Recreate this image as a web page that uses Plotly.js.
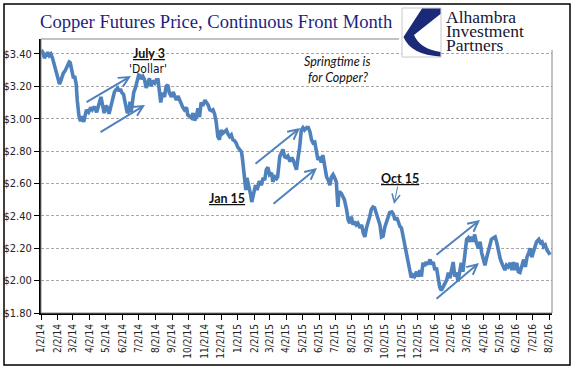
<!DOCTYPE html>
<html>
<head>
<meta charset="utf-8">
<script src="https://cdn.plot.ly/plotly-3.0.1.min.js"></script>
<style>html,body{margin:0;padding:0;background:#fff;}#chart{width:577px;height:386px;}</style>
</head>
<body>
<div id="chart"></div>
<script>
// ---- data ----
const dates = [
'2014-01-02','2014-01-05','2014-01-08','2014-01-10','2014-01-14','2014-01-17','2014-01-20','2014-01-23','2014-01-25','2014-01-29','2014-01-31',
'2014-02-03','2014-02-05','2014-02-07','2014-02-10','2014-02-12','2014-02-16','2014-02-20','2014-02-23','2014-02-25','2014-02-28',
'2014-03-03','2014-03-05','2014-03-08','2014-03-10','2014-03-13','2014-03-16','2014-03-19','2014-03-22','2014-03-24','2014-03-27','2014-03-31',
'2014-04-04','2014-04-07','2014-04-11','2014-04-15','2014-04-18','2014-04-20','2014-04-23','2014-04-26','2014-04-29',
'2014-05-02','2014-05-05','2014-05-08','2014-05-12','2014-05-15','2014-05-18','2014-05-21','2014-05-24','2014-05-27','2014-05-29',
'2014-06-01','2014-06-04','2014-06-06','2014-06-09','2014-06-11','2014-06-14','2014-06-16','2014-06-18','2014-06-21','2014-06-23','2014-06-26','2014-06-29',
'2014-07-02','2014-07-05','2014-07-07','2014-07-10','2014-07-13','2014-07-16','2014-07-19','2014-07-22','2014-07-25','2014-07-28',
'2014-08-01','2014-08-04','2014-08-07','2014-08-10','2014-08-12','2014-08-15','2014-08-19','2014-08-22','2014-08-25','2014-08-28',
'2014-09-01','2014-09-04','2014-09-07','2014-09-10','2014-09-13','2014-09-16','2014-09-19','2014-09-22','2014-09-25','2014-09-29',
'2014-10-01','2014-10-05','2014-10-08','2014-10-11','2014-10-14','2014-10-17','2014-10-20','2014-10-23','2014-10-26','2014-10-29',
'2014-11-02','2014-11-05','2014-11-08','2014-11-11','2014-11-14','2014-11-17','2014-11-20','2014-11-23','2014-11-26','2014-11-29',
'2014-12-02','2014-12-05','2014-12-09','2014-12-12','2014-12-15','2014-12-18','2014-12-21','2014-12-24','2014-12-27','2014-12-30',
'2015-01-02','2015-01-06','2015-01-09','2015-01-11','2015-01-13','2015-01-15','2015-01-17','2015-01-19','2015-01-21','2015-01-24','2015-01-26','2015-01-28',
'2015-02-01','2015-02-04','2015-02-07','2015-02-11','2015-02-15','2015-02-18','2015-02-21','2015-02-24','2015-02-27',
'2015-03-02','2015-03-06','2015-03-08','2015-03-12','2015-03-15','2015-03-17','2015-03-21','2015-03-24','2015-03-27','2015-03-30',
'2015-04-02','2015-04-05','2015-04-09','2015-04-12','2015-04-15','2015-04-18','2015-04-21','2015-04-24','2015-04-27','2015-04-30',
'2015-05-03','2015-05-06','2015-05-10','2015-05-13','2015-05-16','2015-05-19','2015-05-22','2015-05-25','2015-05-28','2015-05-31',
'2015-06-03','2015-06-06','2015-06-09','2015-06-13','2015-06-16','2015-06-19','2015-06-22','2015-06-25','2015-06-28',
'2015-07-01','2015-07-04','2015-07-07','2015-07-09','2015-07-13','2015-07-16','2015-07-19','2015-07-23','2015-07-26','2015-07-29',
'2015-08-01','2015-08-04','2015-08-07','2015-08-10','2015-08-13','2015-08-17','2015-08-20','2015-08-23','2015-08-26','2015-08-29',
'2015-09-01','2015-09-04','2015-09-07','2015-09-10','2015-09-13','2015-09-16','2015-09-19','2015-09-23','2015-09-26','2015-09-29',
'2015-10-02','2015-10-05','2015-10-08','2015-10-11','2015-10-15','2015-10-18','2015-10-21','2015-10-24','2015-10-27','2015-10-30',
'2015-11-02','2015-11-05','2015-11-08','2015-11-11','2015-11-14','2015-11-17','2015-11-20','2015-11-23','2015-11-26','2015-11-30',
'2015-12-03','2015-12-06','2015-12-09','2015-12-12','2015-12-15','2015-12-18','2015-12-21','2015-12-25','2015-12-28','2015-12-31',
'2016-01-03','2016-01-06','2016-01-09','2016-01-12','2016-01-15','2016-01-18','2016-01-22','2016-01-25','2016-01-28','2016-01-31',
'2016-02-03','2016-02-06','2016-02-09','2016-02-12','2016-02-15','2016-02-18','2016-02-21','2016-02-24','2016-02-26','2016-02-29',
'2016-03-02','2016-03-05','2016-03-08','2016-03-11','2016-03-14','2016-03-17','2016-03-20','2016-03-24','2016-03-27','2016-03-30',
'2016-04-02','2016-04-05','2016-04-08','2016-04-11','2016-04-14','2016-04-17','2016-04-21','2016-04-24','2016-04-27','2016-04-30',
'2016-05-03','2016-05-06','2016-05-09','2016-05-12','2016-05-15','2016-05-18','2016-05-22','2016-05-25','2016-05-28','2016-05-31',
'2016-06-03','2016-06-06','2016-06-09','2016-06-13','2016-06-16','2016-06-19','2016-06-22','2016-06-25','2016-06-28',
'2016-07-01','2016-07-04','2016-07-07','2016-07-10','2016-07-14','2016-07-17','2016-07-20','2016-07-23','2016-07-26','2016-07-29',
'2016-08-01','2016-08-04'
];
const prices = [
3.425,3.41,3.375,3.39,3.41,3.39,3.40,3.375,3.35,3.31,3.29,
3.25,3.215,3.23,3.26,3.28,3.30,3.325,3.35,3.345,3.30,
3.25,3.265,3.215,3.115,3.02,2.985,3.015,2.98,3.015,3.055,3.04,
3.07,3.055,3.075,3.04,3.08,3.09,3.135,3.085,3.035,
3.08,3.07,3.03,3.09,3.135,3.165,3.18,3.19,3.17,3.185,
3.16,3.15,3.115,3.055,3.035,3.05,3.105,3.04,3.135,3.165,3.19,3.24,
3.27,3.265,3.245,3.26,3.24,3.19,3.22,3.25,3.20,3.235,
3.22,3.24,3.24,3.16,3.10,3.16,3.135,3.20,3.21,3.16,
3.135,3.165,3.145,3.115,3.14,3.115,3.09,3.07,3.055,3.07,
3.025,3.015,3.005,3.035,2.99,3.01,3.065,3.01,3.10,3.08,
3.115,3.10,3.085,3.055,3.05,3.055,3.03,2.98,2.89,2.87,
2.93,2.91,2.92,2.93,2.905,2.89,2.90,2.87,2.865,2.85,
2.825,2.81,2.795,2.745,2.685,2.61,2.56,2.635,2.61,2.56,2.53,2.485,
2.56,2.59,2.56,2.615,2.59,2.635,2.62,2.685,2.70,
2.655,2.665,2.61,2.64,2.63,2.64,2.765,2.79,2.81,2.765,
2.76,2.77,2.735,2.76,2.745,2.715,2.685,2.76,2.825,2.93,
2.945,2.93,2.945,2.945,2.92,2.87,2.85,2.855,2.81,2.745,
2.765,2.73,2.775,2.695,2.64,2.62,2.59,2.64,2.655,
2.635,2.61,2.455,2.55,2.54,2.52,2.50,2.44,2.375,2.355,
2.395,2.345,2.365,2.345,2.355,2.325,2.345,2.295,2.27,2.325,
2.355,2.395,2.44,2.455,2.45,2.42,2.395,2.345,2.27,2.275,
2.33,2.365,2.395,2.42,2.425,2.41,2.375,2.39,2.365,2.335,
2.325,2.27,2.22,2.18,2.11,2.055,2.02,2.035,2.025,2.055,
2.025,2.065,2.025,2.11,2.09,2.115,2.10,2.13,2.10,2.115,
2.065,2.08,2.015,1.96,1.94,1.955,1.985,2.005,2.05,2.015,
2.065,2.115,2.025,2.05,1.995,2.065,2.11,2.055,2.115,2.16,
2.255,2.265,2.24,2.27,2.24,2.285,2.235,2.20,2.24,2.17,
2.14,2.095,2.14,2.18,2.22,2.255,2.265,2.27,2.235,2.17,
2.14,2.11,2.085,2.065,2.095,2.085,2.11,2.065,2.115,2.065,
2.11,2.055,2.05,2.11,2.13,2.085,2.145,2.17,2.20,
2.145,2.19,2.21,2.24,2.255,2.235,2.24,2.21,2.22,2.19,
2.175,2.16
];
const tickDates = [
'2014-01-02','2014-02-02','2014-03-02','2014-04-02','2014-05-02','2014-06-02','2014-07-02','2014-08-02','2014-09-02','2014-10-02','2014-11-02','2014-12-02',
'2015-01-02','2015-02-02','2015-03-02','2015-04-02','2015-05-02','2015-06-02','2015-07-02','2015-08-02','2015-09-02','2015-10-02','2015-11-02','2015-12-02',
'2016-01-02','2016-02-02','2016-03-02','2016-04-02','2016-05-02','2016-06-02','2016-07-02','2016-08-02'
];
const tickLabels = [
'1/2/14','2/2/14','3/2/14','4/2/14','5/2/14','6/2/14','7/2/14','8/2/14','9/2/14','10/2/14','11/2/14','12/2/14',
'1/2/15','2/2/15','3/2/15','4/2/15','5/2/15','6/2/15','7/2/15','8/2/15','9/2/15','10/2/15','11/2/15','12/2/15',
'1/2/16','2/2/16','3/2/16','4/2/16','5/2/16','6/2/16','7/2/16','8/2/16'
];
const yTickVals = [1.8, 2.0, 2.2, 2.4, 2.6, 2.8, 3.0, 3.2, 3.4];
const yTickLabels = ['$1.80','$2.00','$2.20','$2.40','$2.60','$2.80','$3.00','$3.20','$3.40'];
const chartTitle = 'Copper Futures Price, Continuous Front Month';

// ---- layout geometry (pixels) ----
const W = 577, H = 386;
const PL = 41, PR = 552, PT = 39, PB = 313;
const fx = px => (px - PL) / (PR - PL);
const fy = py => (PB - py) / (PB - PT);
function pathPx(cmds) {
  return cmds.map(c => c[0] + ' ' + c.slice(1).reduce((a, v, i) => {
    if (i % 2 === 0) a.push(fx(v).toFixed(5)); else a[a.length - 1] += ',' + fy(v).toFixed(5);
    return a;
  }, []).join(' ')).join(' ') + ' Z';
}
function rectPx(x0, y0, x1, y1, line, fill, lw) {
  return {type: 'rect', xref: 'paper', yref: 'paper', x0: fx(x0), x1: fx(x1), y0: fy(y1), y1: fy(y0),
    line: {color: line, width: lw}, fillcolor: fill, layer: 'above'};
}

const blue = '#4F81BD';
const shapes = [
  rectPx(PL, PT, PR, PB, '#868686', 'rgba(0,0,0,0)', 1),
  rectPx(399, 5.5, 567, 50, 'rgba(0,0,0,0)', '#ffffff', 0),
  rectPx(402, 8, 441, 57, '#c8c8c8', '#ffffff', 1),
  {type: 'path', xref: 'paper', yref: 'paper', layer: 'above', line: {width: 0}, fillcolor: '#1b2a78',
   path: pathPx([['M', 422, 8.5], ['L', 440.5, 8.5], ['L', 440.5, 14], ['L', 414, 35], ['Q', 420, 49, 440.5, 52], ['L', 440.5, 56.5], ['Q', 411, 55, 403.5, 37]])},
  rectPx(4, 4, 570, 365, '#000000', 'rgba(0,0,0,0)', 1.5)
];

function arrow(tx, ty, sx, sy, w, size) {
  return {xref: 'paper', yref: 'paper', x: fx(tx), y: fy(ty), ax: sx - tx, ay: sy - ty,
    text: '', showarrow: true, arrowcolor: blue, arrowwidth: w, arrowhead: 5, arrowsize: size, standoff: 0, startstandoff: 0};
}
function label(px, py, text, font, anchor) {
  return {xref: 'paper', yref: 'paper', x: fx(px), y: fy(py), text: text, showarrow: false,
    xanchor: anchor || 'center', yanchor: 'middle', font: font};
}
const calBold = {family: 'Lato, sans-serif', size: 12.5, color: '#111'};
const logoFont = {family: 'Liberation Serif', size: 17.5, color: '#161633'};
const annotations = [
  arrow(131, 76, 85, 103, 2, 1),
  arrow(145, 105, 99, 133, 2, 1),
  arrow(300, 128, 254, 165, 2, 1),
  arrow(317, 168, 272, 205, 2, 1),
  arrow(480, 220, 435, 256, 2, 1),
  arrow(479, 263, 435, 300, 2, 1),
  arrow(394, 204, 398, 185, 1, 1.6),
  label(148.5, 53, '<b><u>July 3</u></b>', calBold),
  label(148, 68.5, "'Dollar'", {family: 'DejaVu Sans Condensed', size: 12, color: '#111'}),
  label(337, 62, '<i>Springtime is</i>', {family: 'Lato, sans-serif', size: 12.5, color: '#111'}),
  label(338, 77, '<i>for Copper?</i>', {family: 'Lato, sans-serif', size: 12.5, color: '#111'}),
  label(227, 198, '<b><u>Jan 15</u></b>', calBold),
  label(400, 178, '<b><u>Oct 15</u></b>', calBold),
  label(444, 17, 'Alhambra', logoFont, 'left'),
  label(444, 31, 'Investment', logoFont, 'left'),
  label(444, 45, 'Partners', logoFont, 'left')
];

const trace = {
  type: 'scatter', mode: 'lines', x: dates, y: prices,
  line: {color: blue, width: 3.6}, hoverinfo: 'skip', showlegend: false
};

const layout = {
  width: W, height: H,
  margin: {l: PL, r: W - PR, t: PT, b: H - PB, pad: 0},
  paper_bgcolor: '#ffffff', plot_bgcolor: '#ffffff',
  showlegend: false,
  title: {text: chartTitle, font: {family: 'Liberation Serif', size: 18.6, color: '#1F1F7F'},
    xref: 'container', yref: 'container', x: 40 / W, xanchor: 'left', y: 1 - 21 / H, yanchor: 'middle'},
  xaxis: {
    type: 'date', range: ['2014-01-01 16:00', '2016-08-07 12:00'],
    tickmode: 'array', tickvals: tickDates, ticktext: tickLabels, tickangle: -90,
    ticks: 'outside', ticklen: 5, tickwidth: 1, tickcolor: '#000',
    showline: true, linecolor: '#000', linewidth: 2, showgrid: false, zeroline: false,
    tickfont: {family: 'DejaVu Sans Condensed', size: 10, color: '#222'}
  },
  yaxis: {
    range: [1.8, 3.4926], tickmode: 'array', tickvals: yTickVals, ticktext: yTickLabels,
    ticks: 'outside', ticklen: 5, tickwidth: 1, tickcolor: '#000',
    showline: true, linecolor: '#000', linewidth: 2, zeroline: false,
    showgrid: true, gridcolor: '#A6A6A6', gridwidth: 1, griddash: '3px,2px',
    tickfont: {family: 'DejaVu Sans Condensed', size: 11, color: '#222'}
  },
  shapes: shapes,
  annotations: annotations
};

Plotly.newPlot('chart', [trace], layout, {staticPlot: true, displayModeBar: false});
</script>
</body>
</html>
